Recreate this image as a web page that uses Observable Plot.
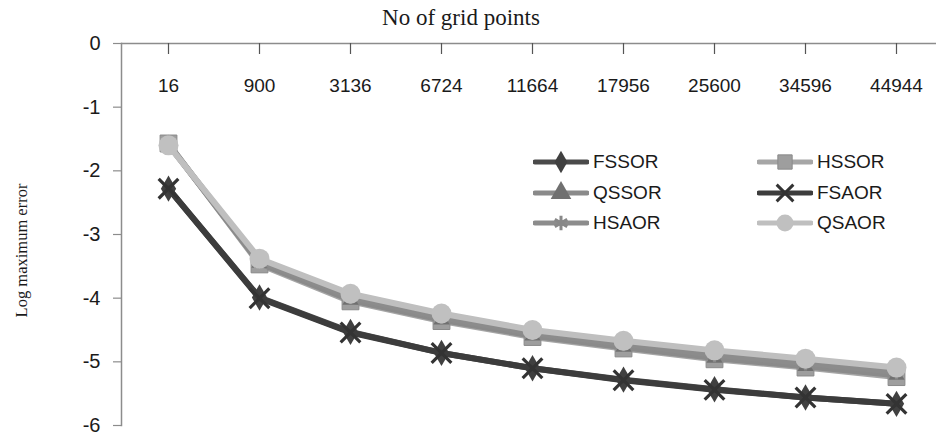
<!DOCTYPE html>
<html>
<head>
<meta charset="utf-8">
<script src="https://cdn.jsdelivr.net/npm/d3@7"></script>
<script src="https://cdn.jsdelivr.net/npm/@observablehq/plot@0.6"></script>
<style>
  html, body { margin: 0; padding: 0; background: #fff; }
  #wrap { position: relative; width: 936px; height: 441px; }
  #legend { position: absolute; left: 533px; top: 148px; font-family: "Liberation Sans", Arial, sans-serif; font-size: 19px; color: #1a1a1a; }
  .item { position: absolute; display: flex; align-items: center; height: 28px; white-space: nowrap; }
  .item svg { display: block; margin-right: 4px; }
</style>
</head>
<body>
<div id="wrap"><div id="legend"></div></div>
<script>
// ---- data ----
const gridPoints = ["16", "900", "3136", "6724", "11664", "17956", "25600", "34596", "44944"];
const seriesNames = ["FSSOR", "HSSOR", "QSSOR", "FSAOR", "HSAOR", "QSAOR"];
const FSSOR = [-2.28, -3.99, -4.53, -4.86, -5.10, -5.28, -5.43, -5.56, -5.66];
const HSSOR = [-1.57, -3.47, -4.05, -4.36, -4.61, -4.79, -4.96, -5.09, -5.24];
const QSSOR = [-1.58, -3.45, -4.03, -4.34, -4.59, -4.77, -4.94, -5.07, -5.21];
const FSAOR = [-2.28, -4.00, -4.54, -4.86, -5.10, -5.29, -5.44, -5.56, -5.66];
const HSAOR = [-1.59, -3.42, -3.98, -4.30, -4.55, -4.72, -4.89, -5.02, -5.16];
const QSAOR = [-1.60, -3.38, -3.93, -4.24, -4.50, -4.67, -4.82, -4.95, -5.09];
const yTicks = [0, -1, -2, -3, -4, -5, -6];
const xTitle = "No of grid points";
const yTitle = "Log maximum error";

// ---- styles ----
const styles = {
  FSSOR: {line: "#4a4a4a", symbol: "diamond", fill: "#404040", stroke: "none", r: 8},
  HSSOR: {line: "#a6a6a6", symbol: "square", fill: "#9e9e9e", stroke: "#8a8a8a", r: 9.5},
  QSSOR: {line: "#8a8a8a", symbol: "triangle", fill: "#707070", stroke: "none", r: 6},
  FSAOR: {line: "#3c3c3c", symbol: "times", fill: "none", stroke: "#333333", r: 9},
  HSAOR: {line: "#8c8c8c", symbol: "asterisk", fill: "none", stroke: "#888888", r: 7},
  QSAOR: {line: "#bfbfbf", symbol: "circle", fill: "#c0c0c0", stroke: "none", r: 10}
};
const legendR = {FSSOR: 8, HSSOR: 9.5, QSSOR: 9, FSAOR: 9, HSAOR: 8, QSAOR: 10};
const values = {FSSOR, HSSOR, QSSOR, FSAOR, HSAOR, QSAOR};

const rows = seriesNames.flatMap(s => gridPoints.map((g, i) => ({series: s, grid: g, value: values[s][i]})));

const axisColor = "#8c8c8c";
const sans = "'Liberation Sans', Arial, sans-serif";
const serif = "'Liberation Serif', 'Times New Roman', serif";

const marks = [
  Plot.ruleY([0], {stroke: axisColor, strokeWidth: 1.5}),
  Plot.frame({anchor: "left", stroke: axisColor, strokeWidth: 1.5}),
  Plot.tickX(gridPoints, {x: d => d, insetBottom: 371, stroke: "#555", strokeWidth: 1.2}),
  Plot.text(gridPoints, {x: d => d, frameAnchor: "top", dy: 42, lineAnchor: "middle", fontSize: 19, fontFamily: sans, fill: "#1a1a1a"}),
  Plot.axisY({ticks: yTicks, tickSize: 8, tickPadding: 13, tickFormat: d => String(d), fontSize: 20, fontFamily: sans, stroke: axisColor, strokeWidth: 1.2, color: "#1a1a1a", label: null}),
  Plot.text([xTitle], {frameAnchor: "top", dx: -68, dy: -26, lineAnchor: "middle", textAnchor: "middle", fontSize: 23, fontFamily: serif, fill: "#1a1a1a"}),
  Plot.text([yTitle], {frameAnchor: "left", dx: -100, dy: 16, rotate: -90, lineAnchor: "middle", textAnchor: "middle", fontSize: 16.5, fontFamily: serif, fill: "#1a1a1a"})
];

for (const s of seriesNames) {
  const st = styles[s];
  const data = rows.filter(d => d.series === s);
  marks.push(Plot.line(data, {x: "grid", y: "value", stroke: st.line, strokeWidth: 6, strokeLinejoin: "round", strokeLinecap: "round"}));
  const strokeSym = st.fill === "none";
  marks.push(Plot.dot(data, {
    x: "grid", y: "value", symbol: () => st.symbol, r: st.r,
    fill: st.fill, stroke: st.stroke, strokeWidth: strokeSym ? 3.2 : 1
  }));
}

const chart = Plot.plot({
  width: 936,
  height: 441,
  marginTop: 43,
  marginBottom: 16,
  marginLeft: 121,
  marginRight: 0,
  style: {background: "#fff", overflow: "visible"},
  x: {type: "point", domain: gridPoints, padding: 0.5, insetRight: -7, axis: null},
  y: {domain: [-6, 0], axis: null},
  symbol: {type: "identity"},
  marks
});
document.getElementById("wrap").prepend(chart);

// ---- legend ----
const legend = document.getElementById("legend");
const legendPos = [
  ["FSSOR", 0, 0], ["HSSOR", 224, 0],
  ["QSSOR", 0, 31], ["FSAOR", 224, 31],
  ["HSAOR", 0, 61], ["QSAOR", 224, 61]
];
const symMap = {diamond: d3.symbolDiamond, square: d3.symbolSquare, triangle: d3.symbolTriangle, times: d3.symbolTimes, asterisk: d3.symbolAsterisk, circle: d3.symbolCircle};
for (const [name, lx, ly] of legendPos) {
  const st = styles[name];
  const item = document.createElement("div");
  item.className = "item";
  item.style.left = lx + "px";
  item.style.top = ly + "px";
  const svg = d3.create("svg").attr("width", 56).attr("height", 24);
  svg.append("line").attr("x1", 2).attr("x2", 54).attr("y1", 12).attr("y2", 12)
    .attr("stroke", st.line).attr("stroke-width", 5).attr("stroke-linecap", "round");
  const size = Math.PI * (legendR[name] * 0.85) ** 2;
  const strokeSym = st.fill === "none";
  svg.append("path").attr("d", d3.symbol(symMap[st.symbol], size)())
    .attr("transform", "translate(28,12)")
    .attr("fill", st.fill).attr("stroke", st.stroke).attr("stroke-width", strokeSym ? 3 : 1);
  item.appendChild(svg.node());
  const t = document.createElement("span");
  t.textContent = name;
  item.appendChild(t);
  legend.appendChild(item);
}
</script>
</body>
</html>
